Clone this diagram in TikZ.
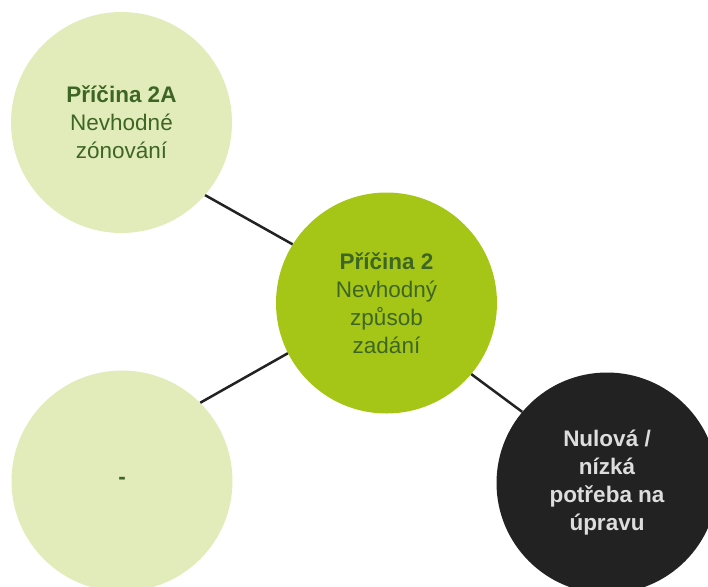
\documentclass[tikz,border=0pt]{standalone}
\usepackage{fontspec}
\setmainfont{Liberation Sans}
\definecolor{lightgreen}{HTML}{E2ECBB}
\definecolor{midgreen}{HTML}{A6C617}
\definecolor{darkgreentext}{HTML}{3D6624}
\definecolor{darkfill}{HTML}{222222}
\definecolor{lighttext}{HTML}{DDDDDD}
\tikzset{
  bubble/.style={circle, minimum size=221pt, inner sep=0pt, align=center,
    font=\fontsize{22.5}{28}\selectfont},
  lightbubble/.style={bubble, fill=lightgreen, text=darkgreentext},
  mainbubble/.style={bubble, fill=midgreen, text=darkgreentext},
  darkbubble/.style={bubble, fill=darkfill, text=lighttext, font=\fontsize{22.5}{28}\selectfont\bfseries},
  link/.style={draw=darkfill, line width=2.5pt}
}
\begin{document}
\begin{tikzpicture}[x=1pt,y=-1pt]
\useasboundingbox (0,0) rectangle (708,586);
\begin{scope}
\clip (0,0) rectangle (708,586);
\node[lightbubble] (a) at (121.5,122.5) {\textbf{Příčina 2A}\\Nevhodné\\zónování};
\node[mainbubble] (c) at (386.5,303) {\textbf{Příčina 2}\\Nevhodný\\způsob\\zadání};
\node[lightbubble] (b) at (122,481) {\textbf{-}};
\node[darkbubble] (d) at (607,483) {Nulová /\\nízká\\potřeba na\\úpravu};
\draw[link] (a.-41) -- (c.148.6);
\draw[link] (b.45) -- (c.207.9);
\draw[link] (c.-40.8) -- (d.140.5);
\end{scope}
\end{tikzpicture}
\end{document}
